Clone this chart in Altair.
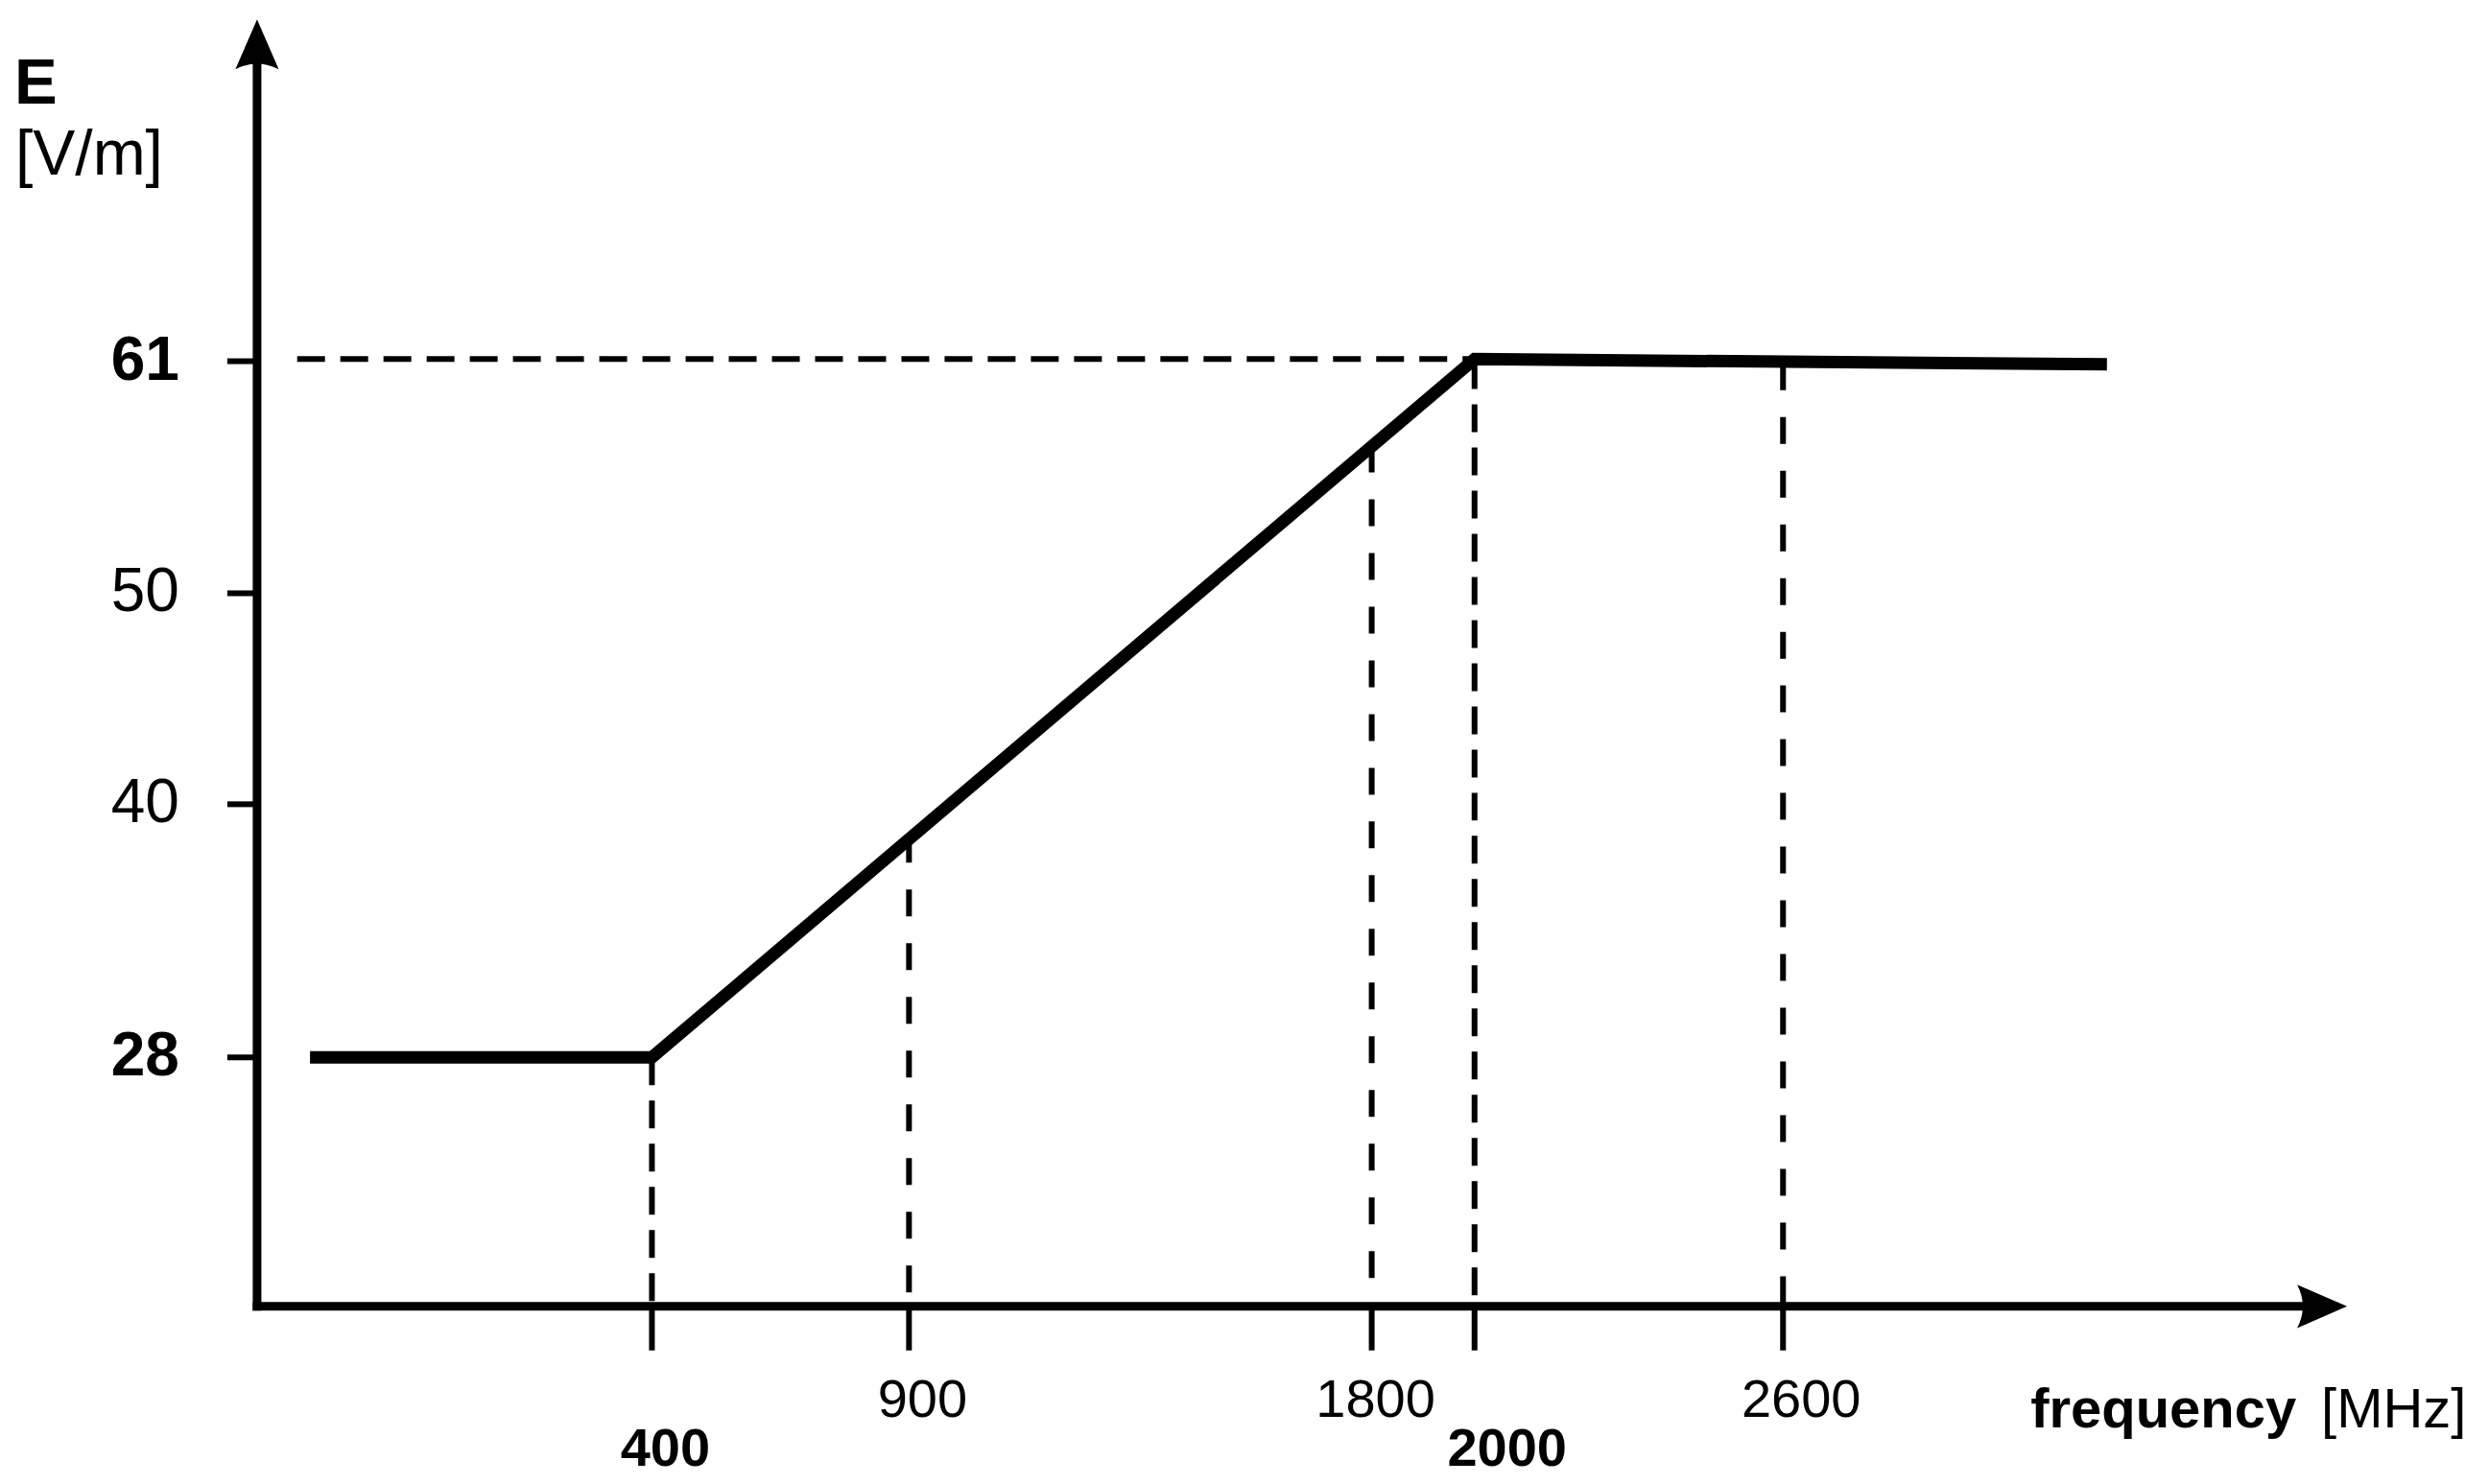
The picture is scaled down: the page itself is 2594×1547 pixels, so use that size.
import altair as alt
import pandas as pd

# ---------------- data ----------------
line_freq = [-265, 400, 2000, 3230]          # MHz (schematic extent)
line_e = [28, 28, 61.1, 60.85]               # V/m

guide_freq_a = [400, 2000]                   # dash-dot guides (key points)
guide_top_a = [28, 61]
guide_freq_b = [900, 1800, 2600]             # plain dashed guides
guide_top_b = [38.5, 57.0, 60.9]

hguide_freq = [-290, 2000]                   # horizontal dashed guide at 61
hguide_e = [61.1, 61.1]

y_ticks = [28, 40, 50, 61]
y_bold = [28, 61]
x_ticks = [400, 900, 1800, 2000, 2600]
x_labels_regular = [900, 1800, 2600]
x_labels_bold = [400, 2000]

x_domain = [-368, 3697]
y_domain = [16.2, 77.2]

# ---------------- layout / style ----------------
W, H = 2179, 1342
FONT = "Liberation Sans"
label_dx = {400: 14, 900: 14, 1800: 4, 2000: 34, 2600: 19}

xs = alt.Scale(domain=x_domain, nice=False, zero=False)
ys = alt.Scale(domain=y_domain, nice=False, zero=False)

X0, X1 = x_domain
Y0, Y1 = y_domain

line_df = pd.DataFrame({"f": line_freq, "e": line_e})
ga_df = pd.DataFrame({"f": guide_freq_a, "top": guide_top_a})
gb_df = pd.DataFrame({"f": guide_freq_b, "top": guide_top_b})
hguide_df = pd.DataFrame({"f": hguide_freq, "e": hguide_e})
xt_df = pd.DataFrame({"f": x_ticks})
yt_df = pd.DataFrame({"e": y_ticks})
base = alt.Chart(pd.DataFrame({"k": [0]}))

main = alt.Chart(line_df).mark_line(
    color="black", strokeWidth=13, strokeJoin="miter", strokeCap="butt"
).encode(
    x=alt.X("f:Q", scale=xs, axis=None),
    y=alt.Y("e:Q", scale=ys, axis=None),
)


def vguide(df, dash):
    return alt.Chart(df).mark_rule(
        color="black", strokeWidth=6, strokeDash=dash
    ).encode(
        x=alt.X("f:Q", scale=xs, axis=None),
        y=alt.Y("top:Q", scale=ys, axis=None),
        y2=alt.datum(Y0),
    )


vguides_a = vguide(ga_df, [29, 16])
vguides_b = vguide(gb_df, [28, 28])

hguide = alt.Chart(hguide_df).mark_line(
    color="black", strokeWidth=6, strokeDash=[29, 16]
).encode(
    x=alt.X("f:Q", scale=xs, axis=None),
    y=alt.Y("e:Q", scale=ys, axis=None),
)

# tick marks
x_tick_marks = alt.Chart(xt_df).mark_rule(
    color="black", strokeWidth=6, y2Offset=46
).encode(
    x=alt.X("f:Q", scale=xs, axis=None),
    y=alt.Y(datum=Y0, scale=ys, axis=None),
    y2=alt.datum(Y0),
)
y_tick_marks = alt.Chart(yt_df).mark_rule(
    color="black", strokeWidth=6, x2Offset=-31
).encode(
    y=alt.Y("e:Q", scale=ys, axis=None),
    x=alt.X(datum=X0, scale=xs, axis=None),
    x2=alt.datum(X0),
)


def ylabels(vals, bold):
    df = pd.DataFrame({"e": vals, "t": [str(v) for v in vals]})
    return alt.Chart(df).mark_text(
        font=FONT, fontSize=64, fontWeight="bold" if bold else "normal",
        color="black", align="right", baseline="middle", dx=-81,
    ).encode(
        y=alt.Y("e:Q", scale=ys, axis=None),
        x=alt.X(datum=X0, scale=xs, axis=None),
        text="t:N",
    )


ylab_regular = ylabels([v for v in y_ticks if v not in y_bold], False)
ylab_bold = ylabels(y_bold, True)

# axis lines with arrow heads
y_axis_line = base.mark_rule(color="black", strokeWidth=9, strokeCap="square").encode(
    x=alt.X(datum=X0, scale=xs, axis=None),
    y=alt.Y(datum=Y0, scale=ys, axis=None),
    y2=alt.datum(Y1 - 1.8),
)
x_axis_line = base.mark_rule(color="black", strokeWidth=9, strokeCap="square").encode(
    x=alt.X(datum=X0, scale=xs, axis=None),
    x2=alt.datum(X1 - 75),
    y=alt.Y(datum=Y0, scale=ys, axis=None),
)

up_arrow = base.mark_point(
    shape="M0,0 L0.87,2 Q0,1.55 -0.87,2 Z", size=2704, filled=True,
    color="black", opacity=1, strokeWidth=0
).encode(
    x=alt.X(datum=X0, scale=xs, axis=None),
    y=alt.Y(datum=Y1, scale=ys, axis=None),
)
right_arrow = base.mark_point(
    shape="M0,0 L-2,-0.87 Q-1.55,0 -2,0.87 Z", size=2704, filled=True,
    color="black", opacity=1, strokeWidth=0
).encode(
    x=alt.X(datum=X1, scale=xs, axis=None),
    y=alt.Y(datum=Y0, scale=ys, axis=None),
)


def xlabel(val, bold):
    return base.mark_text(
        text=str(val), font=FONT, fontSize=56,
        fontWeight="bold" if bold else "normal", color="black",
        align="center", baseline="alphabetic",
        dx=label_dx[val], dy=166 if bold else 115,
    ).encode(
        x=alt.X(datum=val, scale=xs, axis=None),
        y=alt.Y(datum=Y0, scale=ys, axis=None),
    )


xlabels = [xlabel(v, False) for v in x_labels_regular] + \
          [xlabel(v, True) for v in x_labels_bold]


def corner_text(txt, bold, size, xv, yv, dx, dy):
    return base.mark_text(
        text=txt, font=FONT, fontSize=size,
        fontWeight="bold" if bold else "normal", color="black",
        align="left", baseline="alphabetic", dx=dx, dy=dy,
    ).encode(
        x=alt.X(datum=xv, scale=xs, axis=None),
        y=alt.Y(datum=yv, scale=ys, axis=None),
    )


e_title = corner_text("E", True, 67, X0, Y1, -253, 88)
e_unit = corner_text("[V/m]", False, 66, X0, Y1, -252, 162)
f_title = corner_text("frequency", True, 58, X1, Y0, -330, 126)
f_unit = corner_text("[MHz]", False, 58, X1, Y0, -27, 126)

chart = alt.layer(
    vguides_a, vguides_b, hguide, main,
    x_tick_marks, y_tick_marks, ylab_regular, ylab_bold,
    y_axis_line, x_axis_line, up_arrow, right_arrow,
    *xlabels, e_title, e_unit, f_title, f_unit,
).properties(
    width=W, height=H,
    padding={"left": 260, "top": 12, "right": 140, "bottom": 180},
    autosize=alt.AutoSizeParams(type="none"),
    background="white",
).configure_view(stroke=None)

chart.save("out.html", embed_options={"renderer": "svg", "actions": False})
